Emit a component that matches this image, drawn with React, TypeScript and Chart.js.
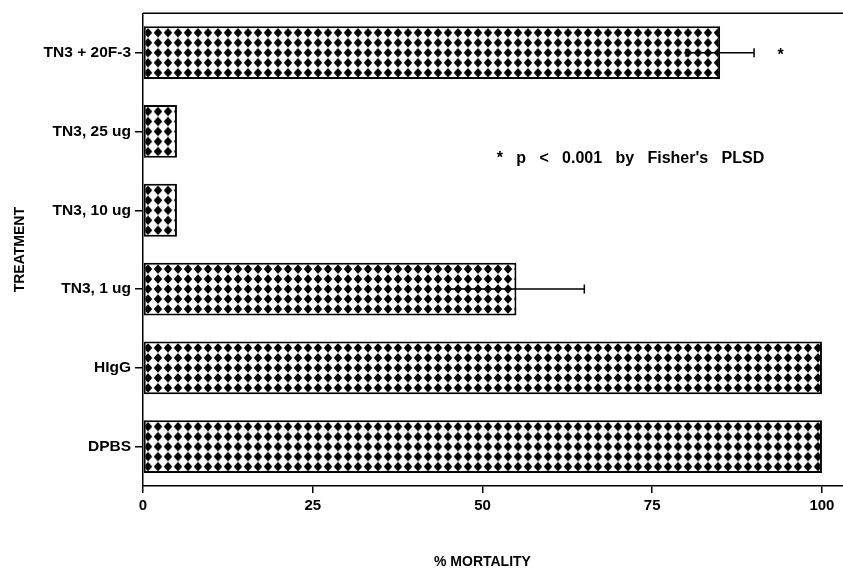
import React, { useEffect, useRef } from "react";
import { Chart, registerables } from "chart.js";

Chart.register(...registerables);

const categories = ["TN3 + 20F-3", "TN3, 25 ug", "TN3, 10 ug", "TN3, 1 ug", "HIgG", "DPBS"];
const mortality = [85, 5, 5, 55, 100, 100];
const errors = [5, 0, 0, 10, 0, 0];
const xTicks = [0, 25, 50, 75, 100];
const xTitle = "% MORTALITY";
const yTitle = "TREATMENT";
const noteText = "*   p   <   0.001   by   Fisher's   PLSD";
const starLabel = "*";

const FONT = '"Liberation Sans", Arial, Helvetica, sans-serif';

function makeTile(): HTMLCanvasElement {
  const t = document.createElement("canvas");
  t.width = 10;
  t.height = 10;
  const c = t.getContext("2d")!;
  c.fillStyle = "#fff";
  c.fillRect(0, 0, 10, 10);
  c.fillStyle = "#000";
  c.beginPath();
  c.moveTo(5, 0.3);
  c.lineTo(9.3, 5);
  c.lineTo(5, 9.7);
  c.lineTo(0.7, 5);
  c.closePath();
  c.fill();
  return t;
}

export default function App() {
  const ref = useRef<HTMLCanvasElement | null>(null);

  useEffect(() => {
    if (!ref.current) return;
    const tile = makeTile();

    const extras = {
      id: "extras",
      afterDatasetsDraw(chart: any) {
        const { ctx, chartArea, scales } = chart;
        const xs = scales.x;
        const ys = scales.y;
        ctx.save();
        // top frame line
        ctx.strokeStyle = "#000";
        ctx.lineWidth = 1.5;
        ctx.beginPath();
        ctx.moveTo(chartArea.left, chartArea.top);
        ctx.lineTo(chartArea.right, chartArea.top);
        ctx.stroke();
        // error bars
        ctx.lineWidth = 1.5;
        errors.forEach((e, i) => {
          if (!e) return;
          const yc = ys.getPixelForValue(i);
          const x1 = xs.getPixelForValue(mortality[i] - e);
          const x2 = xs.getPixelForValue(mortality[i] + e);
          ctx.beginPath();
          ctx.moveTo(x1, yc);
          ctx.lineTo(x2, yc);
          ctx.moveTo(x1, yc - 4);
          ctx.lineTo(x1, yc + 4);
          ctx.moveTo(x2, yc - 4.5);
          ctx.lineTo(x2, yc + 4.5);
          ctx.stroke();
        });
        // significance star next to first bar
        ctx.fillStyle = "#000";
        ctx.font = `bold 16px ${FONT}`;
        ctx.textAlign = "center";
        ctx.textBaseline = "middle";
        ctx.fillText(starLabel, xs.getPixelForValue(93.9), ys.getPixelForValue(0) + 3);
        // note
        ctx.textAlign = "left";
        ctx.fillText(noteText, xs.getPixelForValue(52.1), ys.getPixelForValue(1) + 27);
        // axis titles
        ctx.font = `bold 14px ${FONT}`;
        ctx.textAlign = "center";
        ctx.fillText(xTitle, (xs.getPixelForValue(0) + xs.getPixelForValue(100)) / 2, 562);
        ctx.translate(20, (chartArea.top + chartArea.bottom) / 2);
        ctx.rotate(-Math.PI / 2);
        ctx.fillText(yTitle, 0, 0);
        ctx.restore();
      },
    };

    const chart = new Chart(ref.current, {
      type: "bar",
      data: {
        labels: categories,
        datasets: [
          {
            data: mortality,
            backgroundColor: (c: any) => {
              const ch = c.chart;
              const p = ch.ctx.createPattern(tile, "repeat");
              const ys = ch.scales && ch.scales.y;
              const xs = ch.scales && ch.scales.x;
              if (p && ys && xs && c.type === "data") {
                const yc = ys.getPixelForValue(c.dataIndex);
                const x0 = xs.getPixelForValue(0);
                p.setTransform(new DOMMatrix([1, 0, 0, 1, x0, yc - 5]));
              }
              return p as any;
            },
            borderColor: "#000",
            borderWidth: 2,
            borderSkipped: false,
            categoryPercentage: 1,
            barPercentage: 0.67,
          },
        ],
      },
      options: {
        indexAxis: "y",
        responsive: false,
        animation: false,
        layout: { padding: { top: 12, left: 0, right: 0, bottom: 0 }, autoPadding: false },
        plugins: { legend: { display: false }, tooltip: { enabled: false }, title: { display: false } },
        scales: {
          x: {
            type: "linear",
            min: 0,
            max: 103.1,
            afterFit: (s: any) => {
              s.height = 83;
            },
            afterBuildTicks: (s: any) => {
              s.ticks = xTicks.map((v) => ({ value: v }));
            },
            ticks: {
              stepSize: 25,
              includeBounds: false,
              color: "#000",
              font: { family: FONT, size: 15, weight: "bold" },
              padding: 4,
            },
            grid: {
              drawOnChartArea: false,
              drawTicks: true,
              tickLength: 7,
              color: "#000",
              lineWidth: 1.5,
            },
            border: { display: true, color: "#000", width: 1.5 },
          },
          y: {
            type: "category",
            afterFit: (s: any) => {
              s.width = 143;
            },
            ticks: {
              color: "#000",
              font: { family: FONT, size: 15.5, weight: "bold" },
              padding: 4,
            },
            grid: {
              offset: false,
              drawOnChartArea: false,
              drawTicks: true,
              tickLength: 8,
              color: "#000",
              lineWidth: 1.5,
            },
            border: { display: true, color: "#000", width: 1.5 },
          },
        },
      } as any,
      plugins: [extras],
    });

    return () => chart.destroy();
  }, []);

  return (
    <div style={{ position: "absolute", left: 0, top: 0, width: 843, height: 569, background: "#fff" }}>
      <canvas ref={ref} width={843} height={569} style={{ display: "block" }} />
    </div>
  );
}
